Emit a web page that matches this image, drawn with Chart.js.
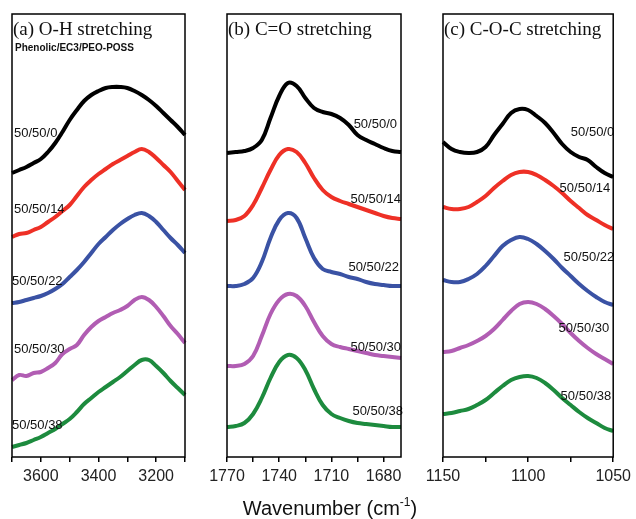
<!DOCTYPE html>
<html>
<head>
<meta charset="utf-8">
<script src="https://cdn.jsdelivr.net/npm/chart.js@4.4.0/dist/chart.umd.min.js"></script>
<style>
  html, body { margin: 0; padding: 0; background: #fff; }
  #wrap { position: relative; width: 636px; height: 519px; overflow: hidden; }
  #wrap canvas { position: absolute; left: 0; top: 0; }
  #xtitle {
    position: absolute; left: 180px; width: 300px; top: 497px;
    text-align: center; font: 20px "Liberation Sans", Arial, sans-serif;
    line-height: 22px; color: #111;
  }
  #xtitle sup { font-size: 12px; line-height: 0; vertical-align: 9px; }
</style>
</head>
<body>
<div id="wrap">
  <canvas id="panelA" width="636" height="519"></canvas>
  <canvas id="panelB" width="636" height="519"></canvas>
  <canvas id="panelC" width="636" height="519"></canvas>
  <div id="xtitle">Wavenumber (cm<sup>-1</sup>)</div>
</div>
<script>
// sample names (phenolic/EC3/PEO-POSS ratio)
const seriesNames = ["50/50/0", "50/50/14", "50/50/22", "50/50/30", "50/50/38"];

// (a) O-H stretching region
const ohWavenumber = [3700, 3675, 3650, 3625, 3600, 3575, 3550, 3525, 3500, 3475, 3450, 3425, 3400,
                      3375, 3350, 3325, 3300, 3275, 3250, 3225, 3200, 3175, 3150, 3125, 3100];
const oh0  = [284, 287, 290, 294, 298, 305, 314, 325, 337, 347, 356, 362, 366, 369, 370, 370, 369, 366, 362, 357, 351, 344, 337, 330, 322];
const oh14 = [220, 223, 224, 227, 230, 235, 240, 246, 252, 261, 270, 277, 283, 288, 293, 297, 301, 305, 308, 305, 299, 292, 285, 276, 267];
const oh22 = [154, 155, 157, 159, 161, 164, 168, 173, 180, 187, 195, 204, 213, 220, 227, 233, 238, 242, 244, 241, 235, 227, 219, 212, 204];
const oh30 = [77, 82, 81, 84, 85, 89, 94, 103, 108, 112, 122, 130, 136, 140, 144, 147, 151, 157, 160, 157, 150, 141, 131, 123, 114];
const oh38 = [10, 12, 14, 17, 20, 24, 28, 33, 38, 45, 53, 59, 65, 70, 75, 80, 86, 92, 97, 97, 91, 84, 76, 69, 62];
const ohTicks = [3700, 3600, 3500, 3400, 3300, 3200, 3100];
const ohTickLabels = [3600, 3400, 3200];

// (b) C=O stretching region
const coWavenumber = [1770, 1765, 1760, 1755, 1750, 1745, 1740, 1735, 1730, 1725, 1720,
                      1715, 1710, 1705, 1700, 1695, 1690, 1685, 1680, 1675, 1670];
const co0  = [304, 305, 306, 309, 317, 339, 361, 374, 371, 359, 349, 345, 343, 339, 332, 322, 317, 313, 309, 306, 305];
const co14 = [236, 237, 241, 252, 269, 287, 302, 308, 305, 294, 279, 267, 260, 256, 253, 250, 247, 244, 241, 239, 238];
const co22 = [171, 171, 173, 179, 195, 219, 237, 244, 239, 219, 199, 188, 185, 183, 180, 178, 175, 173, 172, 171, 171];
const co30 = [91, 91, 93, 101, 121, 143, 157, 163, 161, 151, 135, 121, 113, 110, 108, 106, 104, 102, 101, 100, 99];
const co38 = [30, 31, 34, 43, 59, 79, 95, 102, 99, 87, 68, 52, 43, 39, 36, 34, 33, 32, 31, 30, 30];
const coTicks = [1770, 1755, 1740, 1725, 1710, 1695, 1680];
const coTickLabels = [1770, 1740, 1710, 1680];

// (c) C-O-C stretching region
const cocWavenumber = [1150, 1145, 1140, 1135, 1130, 1125, 1120, 1115, 1110, 1105, 1100,
                       1095, 1090, 1085, 1080, 1075, 1070, 1065, 1060, 1055, 1050];
const coc0  = [315, 308, 305, 304, 305, 310, 322, 333, 344, 348, 347, 341, 334, 324, 313, 305, 300, 297, 290, 284, 280];
const coc14 = [250, 248, 248, 250, 255, 261, 269, 276, 282, 285, 285, 282, 277, 271, 264, 256, 249, 242, 237, 232, 228];
const coc22 = [177, 175, 175, 178, 183, 191, 201, 211, 217, 220, 218, 213, 206, 198, 189, 181, 173, 166, 160, 155, 152];
const coc30 = [105, 106, 109, 112, 116, 121, 128, 137, 146, 153, 155, 153, 148, 141, 133, 124, 116, 109, 103, 98, 93];
const coc38 = [43, 44, 46, 48, 52, 57, 64, 71, 77, 80, 81, 79, 74, 67, 59, 52, 45, 39, 34, 29, 26];
const cocTicks = [1150, 1125, 1100, 1075, 1050];
const cocTickLabels = [1150, 1100, 1050];

const colors = ["#000000", "#ee3026", "#3a52a4", "#b15db3", "#1d8b3e"];

// frame, panel title and the sample labels beside each trace
const decor = {
  id: "decor",
  afterDatasetsDraw(chart, args, opts) {
    const { ctx, chartArea: a } = chart;
    ctx.save();
    ctx.fillStyle = "#111";
    ctx.textBaseline = "middle";
    ctx.font = '13px "Liberation Sans", Arial, sans-serif';
    opts.labels.forEach((l, i) => {
      ctx.textAlign = l.align;
      const x = l.align === "left" ? a.left + l.dx : a.right + l.dx;
      ctx.fillText(seriesNames[i], x, l.y);
    });
    ctx.textAlign = "left";
    ctx.textBaseline = "alphabetic";
    ctx.font = '19px "Liberation Serif", "Times New Roman", serif';
    ctx.fillText(opts.title, a.left + 1, 35);
    if (opts.subtitle) {
      ctx.font = 'bold 10px "Liberation Sans", Arial, sans-serif';
      ctx.textBaseline = "middle";
      ctx.fillText(opts.subtitle, a.left + 3, 48);
    }
    ctx.strokeStyle = "#000";
    ctx.lineWidth = 1.5;
    ctx.strokeRect(a.left, a.top, a.right - a.left, a.bottom - a.top);
    ctx.restore();
  }
};

function makePanel(id, left, right, wn, series, ticks, tickLabels, title, subtitle, labels) {
  new Chart(document.getElementById(id), {
    type: "line",
    data: {
      datasets: series.map((s, i) => ({
        label: seriesNames[i],
        data: s.map((v, j) => ({ x: wn[j], y: v })),
        borderColor: colors[i],
        borderWidth: 4,
        pointRadius: 0,
        tension: 0.4,
        fill: false,
        clip: 2
      }))
    },
    options: {
      responsive: false,
      animation: false,
      layout: { padding: { left: left, right: 636 - right, top: 14, bottom: 0 } },
      plugins: {
        legend: { display: false },
        tooltip: { enabled: false },
        decor: { title: title, subtitle: subtitle, labels: labels }
      },
      scales: {
        x: {
          type: "linear",
          reverse: true,
          min: Math.min(...wn),
          max: Math.max(...wn),
          afterBuildTicks: scale => { scale.ticks = ticks.map(v => ({ value: v })); },
          afterFit: scale => { scale.height = 62; },
          grid: { drawOnChartArea: false, drawTicks: true, tickLength: 5, color: "#000", lineWidth: 1.5 },
          border: { display: false },
          ticks: {
            padding: 5,
            color: "#222",
            font: { family: '"Liberation Sans", Arial, sans-serif', size: 16 },
            maxRotation: 0,
            autoSkip: false,
            callback: v => tickLabels.includes(v) ? String(v) : ""
          }
        },
        y: { display: false, min: 0, max: 443 }
      }
    },
    plugins: [decor]
  });
}

makePanel("panelA", 12, 185, ohWavenumber, [oh0, oh14, oh22, oh30, oh38], ohTicks, ohTickLabels,
  "(a) O-H stretching", "Phenolic/EC3/PEO-POSS", [
    { align: "left", dx: 2, y: 133 },
    { align: "left", dx: 2, y: 209 },
    { align: "left", dx: 0, y: 281 },
    { align: "left", dx: 2, y: 349 },
    { align: "left", dx: 0, y: 425 }
  ]);

makePanel("panelB", 227, 401, coWavenumber, [co0, co14, co22, co30, co38], coTicks, coTickLabels,
  "(b) C=O stretching", null, [
    { align: "right", dx: -4, y: 124 },
    { align: "right", dx: 0, y: 199 },
    { align: "right", dx: -2, y: 267 },
    { align: "right", dx: 0, y: 347 },
    { align: "right", dx: 2, y: 411 }
  ]);

makePanel("panelC", 443, 617, cocWavenumber, [coc0, coc14, coc22, coc30, coc38], cocTicks, cocTickLabels,
  "(c) C-O-C stretching", null, [
    { align: "right", dx: 1, y: 132 },
    { align: "right", dx: -3, y: 188 },
    { align: "right", dx: 1, y: 257 },
    { align: "right", dx: -4, y: 328 },
    { align: "right", dx: -2, y: 396 }
  ]);
</script>
</body>
</html>
